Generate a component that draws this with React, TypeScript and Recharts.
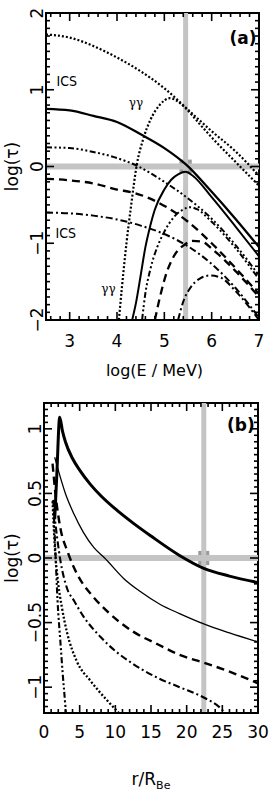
import React from 'react';
import {
  LineChart,
  Line,
  XAxis,
  YAxis,
  ReferenceLine,
  ReferenceArea,
  ReferenceDot,
  Label,
} from 'recharts';

// ---- panel (a): log(tau) against log(E / MeV) ----
const icsDottedE = [2.5, 3, 3.5, 4, 4.5, 5, 5.5, 6, 6.5, 7];
const icsDottedTau = [1.72, 1.68, 1.57, 1.42, 1.24, 1.02, 0.74, 0.46, 0.2, -0.12];
const ggDottedE = [4.04, 4.1, 4.2, 4.3, 4.42, 4.55, 4.7, 4.9, 5.12, 5.3, 5.45, 5.75, 6, 6.6, 7];
const ggDottedTau = [-2, -1.6, -1.0, -0.5, 0.03, 0.35, 0.6, 0.8, 0.89, 0.84, 0.76, 0.55, 0.38, 0.0, -0.25];

const icsSolidE = [2.5, 3, 3.5, 4, 4.5, 5, 5.45, 6, 6.5, 7];
const icsSolidTau = [0.75, 0.73, 0.66, 0.58, 0.42, 0.24, 0.03, -0.33, -0.68, -1.05];
const ggSolidE = [4.32, 4.4, 4.5, 4.6, 4.7, 4.8, 5.0, 5.15, 5.3, 5.45, 5.6, 6, 6.5, 7];
const ggSolidTau = [-2, -1.78, -1.42, -1.05, -0.78, -0.56, -0.3, -0.17, -0.1, -0.07, -0.12, -0.4, -0.78, -1.17];

const icsDdotE = [2.5, 3, 3.5, 4, 4.42, 4.95, 5.55, 6, 6.5, 7];
const icsDdotTau = [0.25, 0.24, 0.19, 0.11, 0.01, -0.18, -0.44, -0.68, -1.02, -1.42];
const ggDdotE = [4.53, 4.6, 4.7, 4.85, 5.0, 5.2, 5.4, 5.55, 5.7, 6, 6.5, 7];
const ggDdotTau = [-2, -1.65, -1.35, -1.05, -0.85, -0.66, -0.56, -0.53, -0.56, -0.72, -1.06, -1.47];

const icsDashE = [2.5, 3, 3.5, 4, 4.34, 5.05, 5.5, 6, 6.5, 7];
const icsDashTau = [-0.16, -0.18, -0.22, -0.3, -0.34, -0.53, -0.72, -1.0, -1.32, -1.66];
const ggDashE = [4.8, 4.9, 5.05, 5.2, 5.4, 5.6, 5.8, 6, 6.5, 7];
const ggDashTau = [-2, -1.72, -1.38, -1.17, -1.03, -0.97, -0.98, -1.07, -1.36, -1.7];

const icsDashDotE = [2.5, 3, 3.5, 4, 4.5, 5, 5.5, 6, 6.5, 7];
const icsDashDotTau = [-0.6, -0.61, -0.64, -0.69, -0.77, -0.88, -1.04, -1.27, -1.58, -1.97];
const ggDashDotE = [5.29, 5.4, 5.55, 5.75, 5.97, 6.2, 6.5, 7];
const ggDashDotTau = [-2, -1.76, -1.58, -1.46, -1.42, -1.45, -1.62, -2.0];

const energyMajor = [3, 4, 5, 6, 7];
const tauMajorA = [-2, -1, 0, 1, 2];
const markerE = 5.45;

// ---- panel (b): log(tau) against r / R_Be ----
const thickR = [1.5, 1.8, 2.2, 2.6, 3, 4, 5, 6.5, 8, 10, 12.5, 15, 19, 22.4, 26, 30];
const thickTau = [0.3, 0.65, 1.09, 0.98, 0.9, 0.77, 0.68, 0.57, 0.48, 0.38, 0.27, 0.17, 0.02, -0.08, -0.14, -0.19];
const thinR = [1.5, 2, 3, 4.2, 5.5, 7, 8.5, 11.2, 13.5, 16.3, 19, 22.4, 26, 30];
const thinTau = [0.78, 0.68, 0.5, 0.34, 0.2, 0.08, 0, -0.16, -0.26, -0.36, -0.43, -0.51, -0.58, -0.65];
const dashR = [1.2, 1.6, 2.3, 3.3, 4.6, 6.9, 9, 12.5, 16, 19, 22.4, 26, 30];
const dashTau = [0.73, 0.5, 0.23, 0.05, -0.12, -0.3, -0.42, -0.57, -0.67, -0.75, -0.81, -0.88, -0.97];
const dashDotR = [1.4, 2.3, 3.2, 4.2, 5.5, 7.9, 10, 12.5, 16, 19, 22.4, 24.7, 26];
const dashDotTau = [0.36, -0.02, -0.23, -0.33, -0.45, -0.61, -0.72, -0.82, -0.93, -1.0, -1.08, -1.16, -1.24];
const dottedR = [1.2, 1.5, 2, 2.5, 3.2, 4.6, 6.5, 8.8, 10.5, 11.5];
const dottedTau = [0.44, 0.1, -0.2, -0.38, -0.57, -0.8, -0.95, -1.1, -1.2, -1.26];
const steepR = [1.3, 1.6, 1.9, 2.3, 2.6, 3.0, 3.2];
const steepTau = [0.45, 0.05, -0.33, -0.65, -0.88, -1.15, -1.3];

const radiusMajor = [0, 5, 10, 15, 20, 25, 30];
const tauMajorB = [-1, -0.5, 0, 0.5, 1];
const markerR = 22.4;

const FONT = 'DejaVu Sans';
const GREY = '#c4c4c4';
const AXIS = { stroke: '#000', strokeWidth: 2 };
const LABEL = { fontFamily: FONT, fontSize: 17, fill: '#000' };

const zip = (xs: number[], ys: number[]) => xs.map((x, i) => ({ x, y: ys[i] }));

const steps = (from: number, to: number, step: number) => {
  const out: number[] = [];
  for (let v = from; v <= to + 1e-9; v += step) out.push(Math.round(v * 1000) / 1000);
  return out;
};

const fmt = (v: number) => (v < 0 ? '\u2212' + String(-v) : String(v));

const note = (text: string, size: number, family: string, weight = 'normal') => (p: any) => (
  <text x={p.cx} y={p.cy} textAnchor="middle" dominantBaseline="central" fontFamily={family} fontSize={size} fontWeight={weight} fill="#000">
    {text}
  </text>
);

const yTitle = (p: any) => {
  const vb = p.viewBox;
  const cy = vb.y + vb.height / 2;
  return (
    <text x={18} y={cy} transform={`rotate(-90 18 ${cy})`} textAnchor="middle" fontFamily={FONT} fontSize={17} fill="#000">
      log(τ)
    </text>
  );
};

// inward tick marks on all four sides of the frame, as short segments in data space
// (w, h: plot size in px, used to turn a tick length in px into data units)
function tickMarks(dx: number[], dy: number[], xMaj: number[], xMin: number[], yMaj: number[], yMin: number[], w: number, h: number) {
  const ux = (dx[1] - dx[0]) / w;
  const uy = (dy[1] - dy[0]) / h;
  const out: React.ReactElement[] = [];
  const seg = (key: string, a: { x: number; y: number }, b: { x: number; y: number }) => (
    <ReferenceLine key={key} xAxisId="b" yAxisId="l" segment={[a, b]} stroke="#000" strokeWidth={1.6} ifOverflow="visible" />
  );
  const xs = [...xMaj.map((v) => [v, 8]), ...xMin.map((v) => [v, 4])];
  const ys = [...yMaj.map((v) => [v, 8]), ...yMin.map((v) => [v, 4])];
  xs.forEach(([v, len]) => {
    out.push(seg(`xb${v}`, { x: v, y: dy[0] }, { x: v, y: dy[0] + len * uy }));
    out.push(seg(`xt${v}`, { x: v, y: dy[1] }, { x: v, y: dy[1] - len * uy }));
  });
  ys.forEach(([v, len]) => {
    out.push(seg(`yl${v}`, { x: dx[0], y: v }, { x: dx[0] + len * ux, y: v }));
    out.push(seg(`yr${v}`, { x: dx[1], y: v }, { x: dx[1] - len * ux, y: v }));
  });
  return out;
}

function PanelA() {
  const xMin = steps(2.6, 6.8, 0.2).filter((v) => !energyMajor.includes(v));
  const yMin = steps(-1.9, 1.9, 0.1).filter((v) => !tauMajorA.includes(v));
  const curves = [
    { d: zip(icsDottedE, icsDottedTau), dash: '2 2', w: 2.2 },
    { d: zip(ggDottedE, ggDottedTau), dash: '2 2', w: 2.2 },
    { d: zip(icsSolidE, icsSolidTau), dash: undefined, w: 2.3 },
    { d: zip(ggSolidE, ggSolidTau), dash: undefined, w: 2 },
    { d: zip(icsDdotE, icsDdotTau), dash: '6 2.5 2 2.5 2 2.5 2 2.5', w: 2 },
    { d: zip(ggDdotE, ggDdotTau), dash: '6 2.5 2 2.5 2 2.5 2 2.5', w: 2 },
    { d: zip(icsDashE, icsDashTau), dash: '8 5', w: 2.3 },
    { d: zip(ggDashE, ggDashTau), dash: '8 5', w: 2.3 },
    { d: zip(icsDashDotE, icsDashDotTau), dash: '7 3 2 3', w: 2 },
    { d: zip(ggDashDotE, ggDashDotTau), dash: '7 3 2 3', w: 2 },
  ];
  return (
    <LineChart width={270} height={385} margin={{ top: 13, right: 11, bottom: 0, left: 0 }}>
      <XAxis xAxisId="b" type="number" dataKey="x" domain={[2.5, 7]} allowDataOverflow ticks={energyMajor} interval={0}
        orientation="bottom" height={65} tickSize={0} tickMargin={15} tickLine={false} axisLine={AXIS}
        tick={LABEL} tickFormatter={fmt}>
        <Label content={(p: any) => (
          <text x={p.viewBox.x + p.viewBox.width / 2 + 2} y={p.viewBox.y + 56} textAnchor="middle" fontFamily={FONT} fontSize={16} fill="#000">
            log(E / MeV)
          </text>
        )} />
      </XAxis>
      <YAxis yAxisId="l" type="number" domain={[-2, 2]} allowDataOverflow ticks={tauMajorA} interval={0}
        width={46} tickSize={0} tickMargin={9} tickLine={false} axisLine={AXIS}
        tick={{ ...LABEL, textAnchor: 'middle', verticalAnchor: 'end' }} angle={-90} tickFormatter={fmt}>
        <Label content={yTitle} />
      </YAxis>

      <ReferenceLine xAxisId="b" yAxisId="l" x={markerE} stroke={GREY} strokeWidth={5} />
      <ReferenceLine xAxisId="b" yAxisId="l" y={0} stroke={GREY} strokeWidth={6} />
      <ReferenceArea xAxisId="b" yAxisId="l" x1={markerE - 0.13} x2={markerE + 0.13} y1={-0.09} y2={0.09} fill="#9a9a9a" fillOpacity={1} stroke="none" />

      {curves.map((c, i) => (
        <Line key={i} xAxisId="b" yAxisId="l" data={c.d} dataKey="y" type="monotone" stroke="#000"
          strokeWidth={c.w} strokeDasharray={c.dash} dot={false} activeDot={false} isAnimationActive={false} />
      ))}

      <ReferenceArea xAxisId="b" yAxisId="l" x1={2.5} x2={7} y1={-2} y2={2} fill="none" fillOpacity={0} stroke="#000" strokeWidth={2} />
      {tickMarks([2.5, 7], [-2, 2], energyMajor, xMin, tauMajorA, yMin, 213, 307)}

      <ReferenceDot xAxisId="b" yAxisId="l" x={2.94} y={1.12} r={0} shape={note('ICS', 14, 'DejaVu Sans Condensed')} />
      <ReferenceDot xAxisId="b" yAxisId="l" x={2.92} y={-0.87} r={0} shape={note('ICS', 14, 'DejaVu Sans Condensed')} />
      <ReferenceDot xAxisId="b" yAxisId="l" x={4.4} y={0.83} r={0} shape={note('γγ', 12, 'DejaVu Serif')} />
      <ReferenceDot xAxisId="b" yAxisId="l" x={3.82} y={-1.6} r={0} shape={note('γγ', 12, 'DejaVu Serif')} />
      <ReferenceDot xAxisId="b" yAxisId="l" x={6.66} y={1.68} r={0} shape={note('(a)', 17, FONT, 'bold')} />
    </LineChart>
  );
}

function PanelB() {
  const xMin = steps(1, 29, 1).filter((v) => !radiusMajor.includes(v));
  const yMin = steps(-1.15, 1.15, 0.05).filter((v) => !tauMajorB.includes(v));
  const curves = [
    { d: zip(thickR, thickTau), dash: undefined, w: 3 },
    { d: zip(thinR, thinTau), dash: undefined, w: 1.3 },
    { d: zip(dashR, dashTau), dash: '8 5', w: 2.4 },
    { d: zip(dashDotR, dashDotTau), dash: '7 3 2 3', w: 2.1 },
    { d: zip(dottedR, dottedTau), dash: '2 2', w: 2.3 },
    { d: zip(steepR, steepTau), dash: '6 2.5 2 2.5 2 2.5', w: 2.1 },
  ];
  return (
    <LineChart width={270} height={406} margin={{ top: 18, right: 12, bottom: 0, left: 0 }}>
      <XAxis xAxisId="b" type="number" dataKey="x" domain={[0, 30]} allowDataOverflow ticks={radiusMajor} interval={0}
        orientation="bottom" height={78} tickSize={0} tickMargin={13} tickLine={false} axisLine={AXIS}
        tick={LABEL} tickFormatter={fmt}>
        <Label content={(p: any) => (
          <text x={p.viewBox.x + p.viewBox.width / 2} y={p.viewBox.y + 72} textAnchor="middle" fontFamily={FONT} fontSize={17} fill="#000">
            r/R<tspan fontSize={11} dy={4}>Be</tspan>
          </text>
        )} />
      </XAxis>
      <YAxis yAxisId="l" type="number" domain={[-1.2, 1.2]} allowDataOverflow ticks={tauMajorB} interval={0}
        width={44} tickSize={0} tickMargin={9} tickLine={false} axisLine={AXIS}
        tick={{ ...LABEL, textAnchor: 'middle', verticalAnchor: 'end' }} angle={-90} tickFormatter={fmt}>
        <Label content={yTitle} />
      </YAxis>

      <ReferenceLine xAxisId="b" yAxisId="l" x={markerR} stroke={GREY} strokeWidth={5} />
      <ReferenceLine xAxisId="b" yAxisId="l" y={0} stroke={GREY} strokeWidth={6} />
      <ReferenceArea xAxisId="b" yAxisId="l" x1={markerR - 0.77} x2={markerR + 0.77} y1={-0.055} y2={0.055} fill="#9a9a9a" fillOpacity={1} stroke="none" />

      {curves.map((c, i) => (
        <Line key={i} xAxisId="b" yAxisId="l" data={c.d} dataKey="y" type="monotone" stroke="#000"
          strokeWidth={c.w} strokeDasharray={c.dash} dot={false} activeDot={false} isAnimationActive={false} />
      ))}

      <ReferenceArea xAxisId="b" yAxisId="l" x1={0} x2={30} y1={-1.2} y2={1.2} fill="none" fillOpacity={0} stroke="#000" strokeWidth={2} />
      {tickMarks([0, 30], [-1.2, 1.2], radiusMajor, xMin, tauMajorB, yMin, 214, 310)}

      <ReferenceDot xAxisId="b" yAxisId="l" x={27.6} y={1.03} r={0} shape={note('(b)', 17, FONT, 'bold')} />
    </LineChart>
  );
}

export default function App() {
  return (
    <div style={{ position: 'absolute', left: 0, top: 0, width: 270, height: 791, background: '#fff' }}>
      <PanelA />
      <PanelB />
    </div>
  );
}
